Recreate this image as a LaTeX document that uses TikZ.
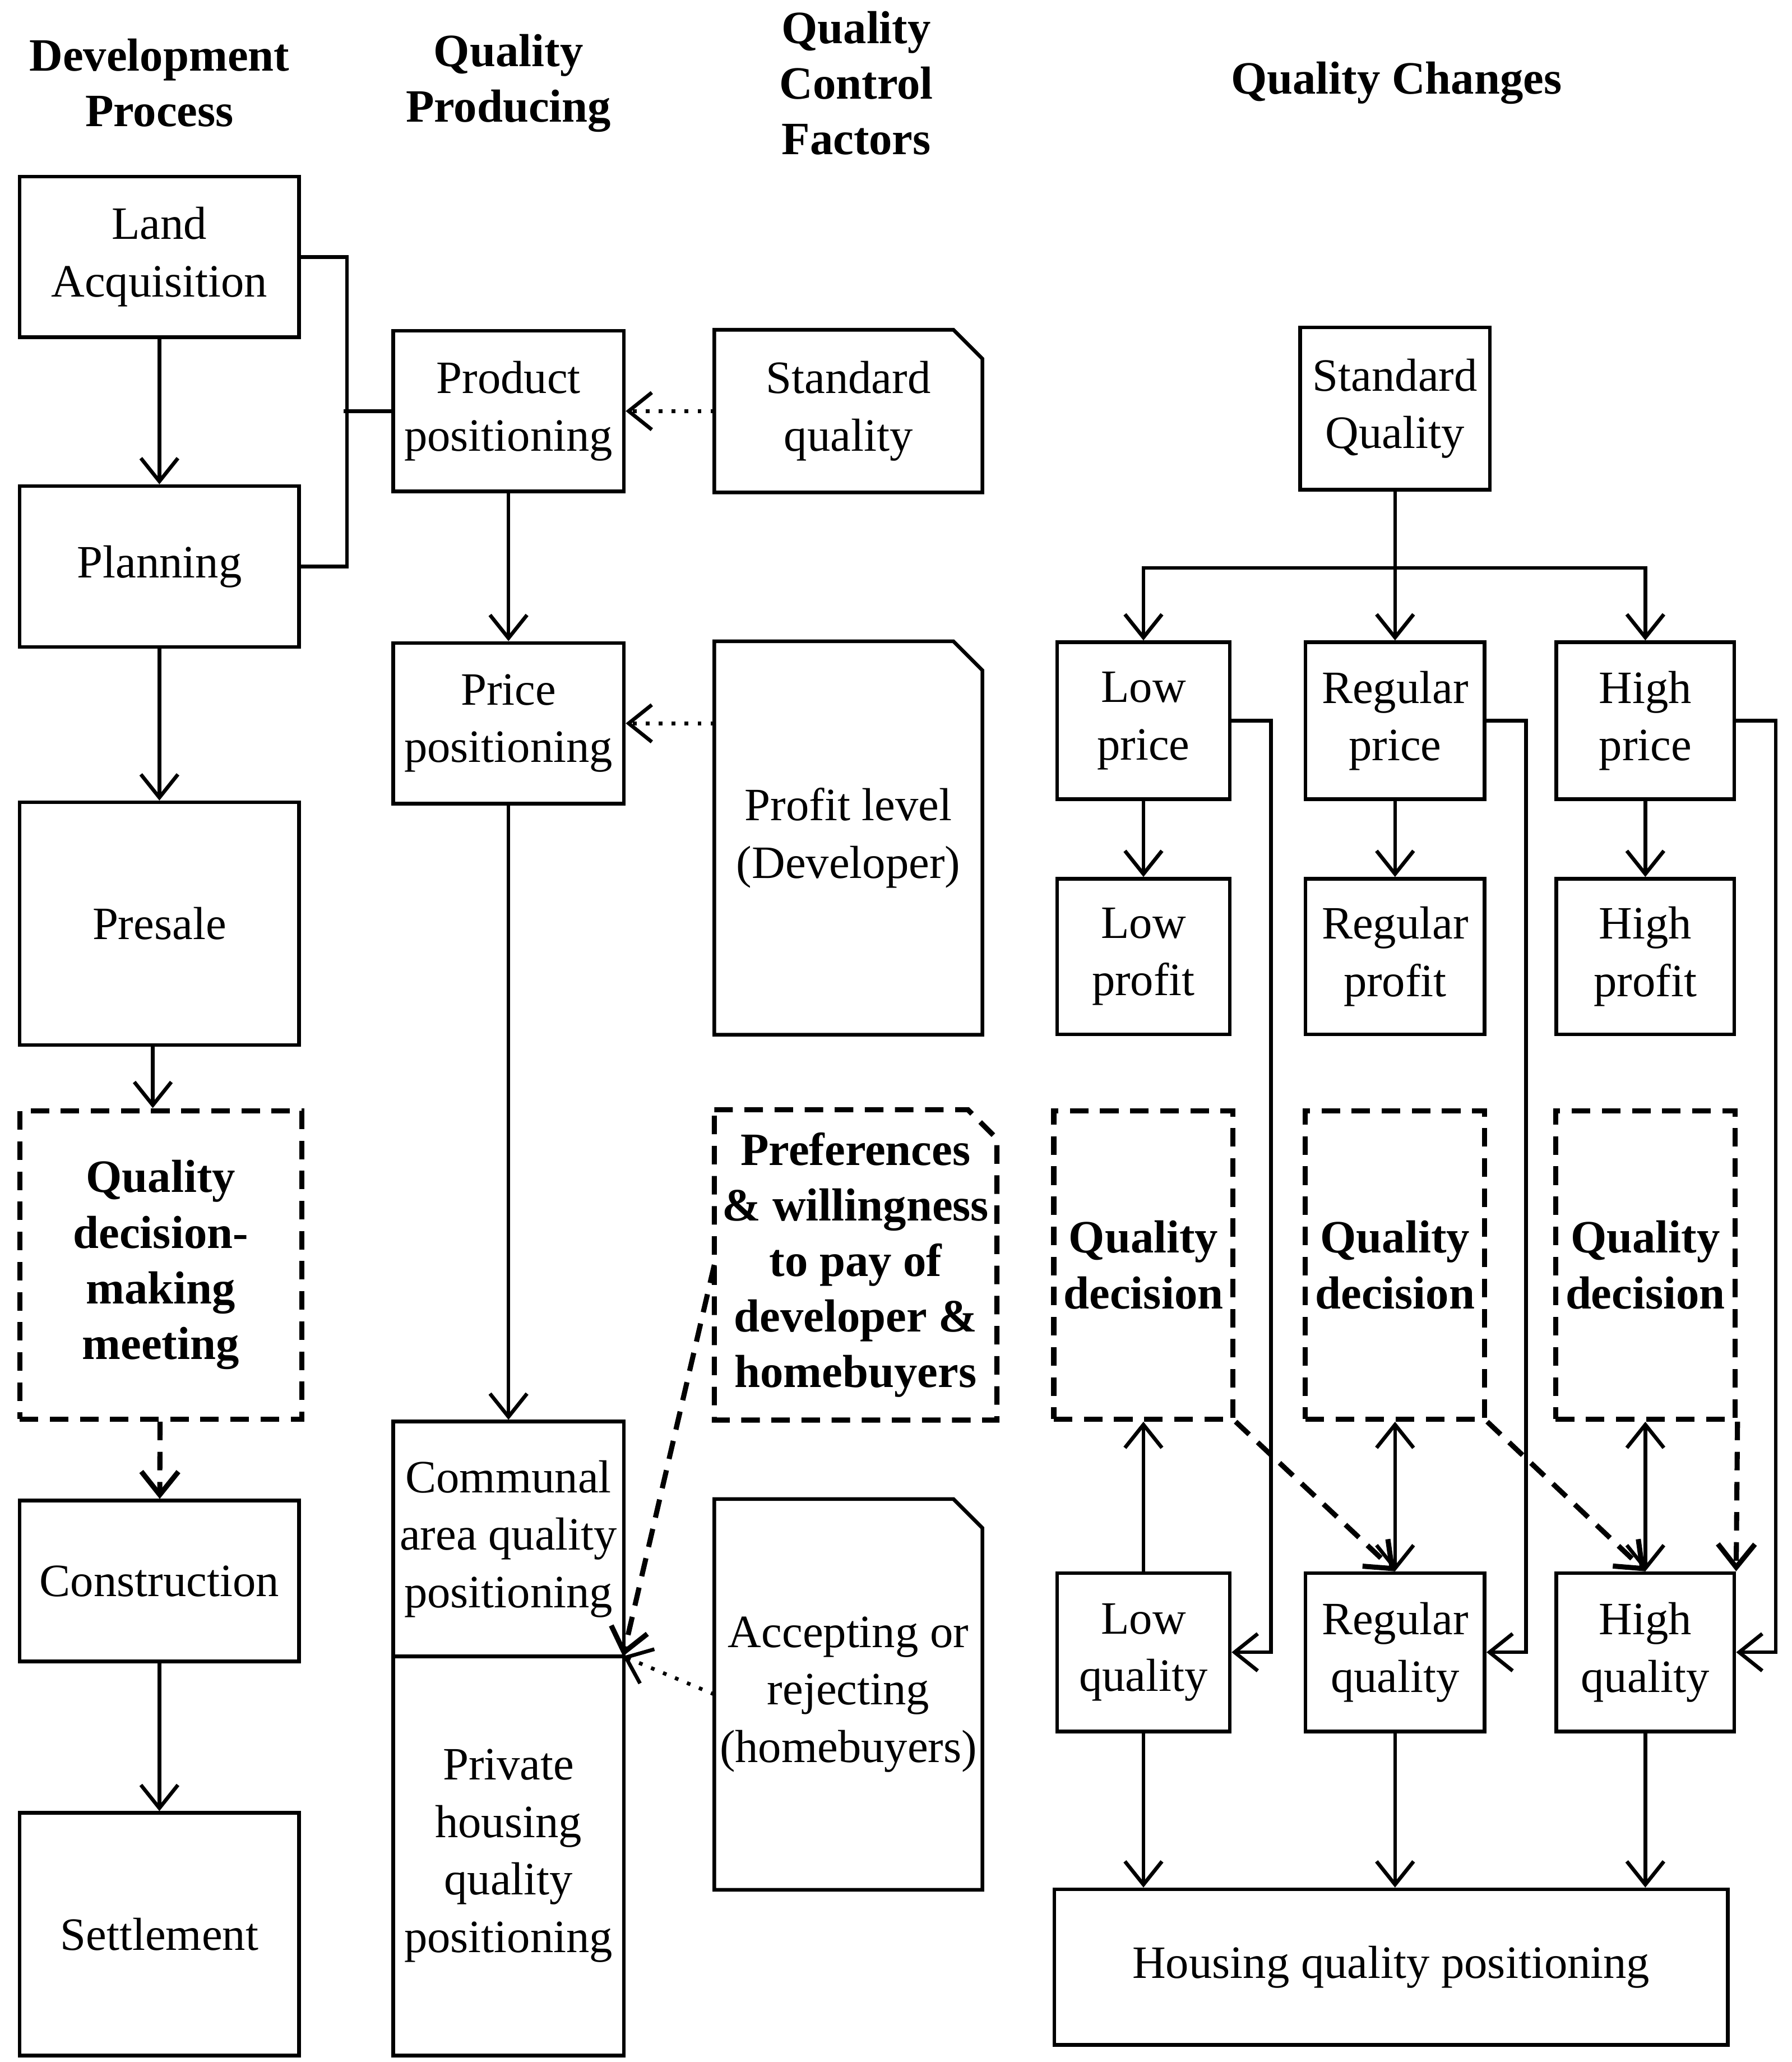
\documentclass[tikz,border=0pt]{standalone}
\usepackage{fontspec}
\setmainfont{Liberation Serif}
\usetikzlibrary{positioning,arrows.meta}

\tikzset{
  box/.style={draw, line width=0.8pt, align=center, inner sep=0pt},
  doc/.style={align=center, inner sep=0pt},
  dsh/.style={dash pattern=on 4pt off 2.5pt, line width=1.1pt},
  dbox/.style={box, dsh, font=\bfseries},
  head/.style={align=center, font=\bfseries},
  arr/.style={-{Straight Barb[length=5pt,width=8pt]}, line width=0.8pt},
  con/.style={line width=0.8pt}
}
% folded document outline around a node
\newcommand{\docframe}[2][]{%
  \draw[line width=0.8pt,#1] (#2.north west) -- ([xshift=-0.22cm]#2.north east)
    -- ([yshift=-0.22cm]#2.north east) -- (#2.south east) -- (#2.south west) -- cycle;}

\begin{document}
\begin{tikzpicture}[x=0.01cm, y=-0.01cm, font=\fontsize{10}{12.4}\selectfont]
    \useasboundingbox (0,0) rectangle (1360,1565);

    % Headers
    \node[head] (hdev) at (121,63) {Development\\Process};
    \node[head] (hprod) at (386,63) {Quality\\Producing};
    \node[head] (hctrl) at (650,63) {Quality\\Control\\Factors};
    \node[head] (hchg) at (1060,63) {Quality Changes};

    % Development process
    \node[box, minimum width=2.12cm, minimum height=1.22cm] (land) at (121,195) {Land\\Acquisition};
    \node[box, minimum width=2.12cm, minimum height=1.22cm] (plan) at (121,430) {Planning};
    \node[box, minimum width=2.12cm, minimum height=1.84cm] (presale) at (121,701) {Presale};
    \node[dbox, minimum width=2.14cm, minimum height=2.34cm] (meet) at (122,960) {Quality\\decision-\\making\\meeting};
    \node[box, minimum width=2.12cm, minimum height=1.22cm] (constr) at (121,1200) {Construction};
    \node[box, minimum width=2.12cm, minimum height=1.84cm] (settle) at (121,1468) {Settlement};

    % Quality producing
    \node[box, minimum width=1.75cm, minimum height=1.22cm] (prodpos) at (386,312) {Product\\positioning};
    \node[box, minimum width=1.75cm, minimum height=1.22cm] (pricepos) at (386,549) {Price\\positioning};
    \node[box, minimum width=1.75cm, minimum height=1.78cm] (communal) at (386,1168) {Communal\\area quality\\positioning};
    \node[box, minimum width=1.75cm, minimum height=3.03cm] (private) at (386,1408.5) {Private\\housing\\quality\\positioning};
    \coordinate (join) at (473,1257);

    % Quality control factors
    \node[doc, minimum width=2.02cm, minimum height=1.22cm] (stdq) at (644,312) {Standard\\quality};
    \node[doc, minimum width=2.02cm, minimum height=2.97cm] (profit) at (644,636) {Profit level\\(Developer)};
    \node[doc, font=\bfseries, minimum width=2.13cm, minimum height=2.34cm] (pref) at (649.5,960) {Preferences\\\& willingness\\to pay of\\developer \&\\homebuyers};
    \node[doc, minimum width=2.02cm, minimum height=2.95cm] (accept) at (644,1286) {Accepting or\\rejecting\\(homebuyers)};
    \docframe{stdq}
    \docframe{profit}
    \docframe[dsh]{pref}
    \docframe{accept}

    % Quality changes
    \node[box, minimum width=1.44cm, minimum height=1.23cm] (stdQ) at (1059,310) {Standard\\Quality};
    \foreach \n/\t/\x/\w in {low/Low/868/1.31, reg/Regular/1059/1.36, high/High/1249/1.35} {
      \node[box, minimum width=\w cm, minimum height=1.19cm] (\n price) at (\x,547) {\t\\price};
      \node[box, minimum width=\w cm, minimum height=1.18cm] (\n profit) at (\x,726) {\t\\profit};
      \node[dbox, minimum width=1.36cm, minimum height=2.34cm] (\n dec) at (\x,960) {Quality\\decision};
      \node[box, minimum width=\w cm, minimum height=1.2cm] (\n qual) at (\x,1254) {\t\\quality};
    }
    \node[box, minimum width=5.11cm, minimum height=1.18cm] (housing) at (1056,1493) {Housing quality positioning};

    % Development process connectors
    \draw[arr] (land) -- (plan);
    \draw[arr] (plan) -- (presale);
    \draw[arr] (presale.south -| 116,0) -- (meet.north -| 116,0);
    \draw[arr, dsh] (meet) -- (constr);
    \draw[arr] (constr) -- (settle);
    \draw[con] (land.east) -- ++(35,0) |- (plan.east);
    \draw[con] (prodpos.west) -- ++(-36,0);

    % Quality producing connectors
    \draw[arr] (prodpos) -- (pricepos);
    \draw[arr] (pricepos) -- (communal);
    \draw[arr, dotted] (stdq.west) -- (prodpos.east);
    \draw[arr, dotted] (profit.west |- pricepos.east) -- (pricepos.east);
    \draw[arr, dotted] (accept.west) -- (join);
    \draw[arr, dsh] (pref.west) -- (join);

    % Quality changes connectors
    \draw[con] (stdQ.south) -- ++(0,58) coordinate (split);
    \draw[arr] (split) -| (lowprice.north);
    \draw[arr] (split) -| (highprice.north);
    \draw[arr] (split) -- (regprice.north);
    \foreach \n/\dx in {low/30, reg/30, high/30} {
      \draw[arr] (\n price) -- (\n profit);
      \draw[arr] (\n price.east) -- ++(\dx,0) |- (\n qual.east);
      \draw[arr] (\n qual) -- (\n qual |- housing.north);
    }
    \draw[arr] (lowqual) -- (lowdec);
    \draw[arr, {Straight Barb[length=5pt,width=8pt]}-{Straight Barb[length=5pt,width=8pt]}] (regqual) -- (regdec);
    \draw[arr, {Straight Barb[length=5pt,width=8pt]}-{Straight Barb[length=5pt,width=8pt]}] (highqual) -- (highdec);
    \draw[arr, dsh] (lowdec.south east) -- (regqual.north);
    \draw[arr, dsh] (regdec.south east) -- (highqual.north);
    \draw[arr, dsh] (highdec.south east) -- (highqual.north east);
\end{tikzpicture}
\end{document}
